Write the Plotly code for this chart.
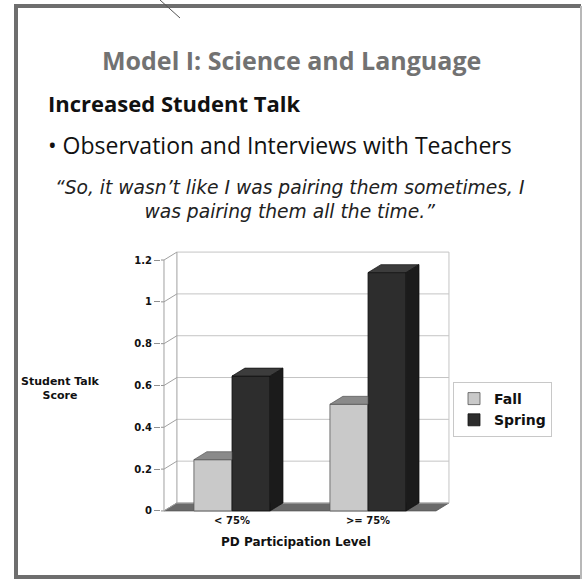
import plotly.graph_objects as go

# ---- data ----
categories = ["< 75%", ">= 75%"]
fall_values = [0.245, 0.51]
spring_values = [0.645, 1.14]
y_tick_values = [0, 0.2, 0.4, 0.6, 0.8, 1.0, 1.2]
y_tick_labels = ["0", "0.2", "0.4", "0.6", "0.8", "1", "1.2"]

# ---- styling / geometry constants ----
W, H = 583, 580
L, R, T, B = 161, 132, 250, 67
DX, DY = 0.095, 0.038          # 3-D depth in data units
EX, EY = 0.022, 0.01           # small padding so edge lines are not clipped
BARGAP = 0.44
BW = (1 - BARGAP) / 2
YMAX = 1.2
CH = "DejaVu Sans"
SF = "Open Sans"

FALL_FRONT, FALL_TOP = "#c9c9c9", "#8a8a8a"
SPR_FRONT, SPR_TOP, SPR_SIDE = "#2d2d2d", "#3c3c3c", "#1b1b1b"
GRID = "#c4c4c4"

xs = list(range(len(categories)))

fig = go.Figure()
fig.add_trace(go.Bar(x=xs, y=fall_values, name="Fall", marker=dict(color=FALL_FRONT, line=dict(color="#555", width=0.8))))
fig.add_trace(go.Bar(x=xs, y=spring_values, name="Spring", marker=dict(color=SPR_FRONT, line=dict(color="#111", width=0.8))))

def poly(px, py, color, line="#222"):
    fig.add_trace(go.Scatter(x=px + [px[0]], y=py + [py[0]], mode="lines", fill="toself",
                             fillcolor=color, line=dict(color=line, width=0.7),
                             showlegend=False, hoverinfo="skip"))

for i, (f, s) in enumerate(zip(fall_values, spring_values)):
    l0, r0 = i - BW, i
    poly([l0, r0, r0, l0 + DX], [f, f, f + DY, f + DY], FALL_TOP, "#555")
    l1, r1 = i, i + BW
    poly([l1, r1, r1 + DX, l1 + DX], [s, s, s + DY, s + DY], SPR_TOP, "#111")
    poly([r1, r1 + DX, r1 + DX, r1], [0, DY, s + DY, s], SPR_SIDE, "#111")

shapes = []
x0f, x1f = -0.5, len(categories) - 0.5
shapes.append(dict(type="path", xref="x", yref="y", layer="below",
                   path=f"M{x0f},0 L{x1f},0 L{x1f+DX},{DY} L{x0f+DX},{DY} Z",
                   fillcolor="#6a6a6a", line=dict(color="#555", width=0.8)))
for v in y_tick_values:
    shapes.append(dict(type="line", xref="x", yref="y", layer="below",
                       x0=x0f + DX, x1=x1f + DX, y0=v + DY, y1=v + DY,
                       line=dict(color=GRID, width=1)))
    shapes.append(dict(type="line", xref="x", yref="y", layer="below",
                       x0=x0f, x1=x0f + DX, y0=v, y1=v + DY,
                       line=dict(color="#a0a0a0", width=1)))
    shapes.append(dict(type="line", xref="x", yref="y", layer="below",
                       x0=x0f - EX, x1=x0f, y0=v, y1=v,
                       line=dict(color="#909090", width=1)))
shapes.append(dict(type="line", xref="x", yref="y", layer="below", x0=x0f, x1=x0f, y0=0, y1=YMAX,
                   line=dict(color="#a0a0a0", width=1)))
shapes.append(dict(type="line", xref="x", yref="y", layer="below", x0=x0f + DX, x1=x0f + DX, y0=DY, y1=YMAX + DY,
                   line=dict(color="#a0a0a0", width=1)))
shapes.append(dict(type="line", xref="x", yref="y", layer="below", x0=x1f + DX, x1=x1f + DX, y0=DY, y1=YMAX + DY,
                   line=dict(color=GRID, width=1)))

PW, PH = W - L - R, H - T - B
def PX(x): return (x - L) / PW
def PY(y): return (H - B - y) / PH

frame = "#6e6e6e"
shapes += [
    dict(type="line", xref="paper", yref="paper", x0=PX(16), x1=PX(16), y0=PY(4), y1=PY(579), line=dict(color=frame, width=4)),
    dict(type="line", xref="paper", yref="paper", x0=PX(14), x1=PX(581), y0=PY(6), y1=PY(6), line=dict(color=frame, width=4)),
    dict(type="line", xref="paper", yref="paper", x0=PX(14), x1=PX(581), y0=PY(577), y1=PY(577), line=dict(color=frame, width=4)),
    dict(type="line", xref="paper", yref="paper", x0=PX(581), x1=PX(581), y0=PY(6), y1=PY(579), line=dict(color="#b8b8b8", width=2)),
    dict(type="line", xref="paper", yref="paper", x0=PX(160), x1=PX(180), y0=PY(0), y1=PY(18), line=dict(color="#555", width=1)),
]

annotations = [
    dict(text="<b>Model I: Science and Language</b>", x=PX(291), y=PY(60), font=dict(family=SF, size=25, color="#727272")),
    dict(text="<b>Increased Student Talk</b>", x=PX(46), y=PY(103), xanchor="left", font=dict(family=SF, size=22, color="#111")),
    dict(text="• Observation and Interviews with Teachers", x=PX(46), y=PY(145), xanchor="left", font=dict(family=SF, size=23, color="#111")),
    dict(text="<i>“So, it wasn’t like I was pairing them sometimes, I<br>was pairing them all the time.”</i>",
         x=PX(290), y=PY(199), align="center", font=dict(family="DejaVu Sans", size=18.7, color="#222")),
    dict(text="<b>Student Talk<br>Score</b>", x=PX(60), y=PY(388), font=dict(family=CH, size=11, color="#111")),
    dict(text="<b>PD Participation Level</b>", x=PX(296), y=PY(542), font=dict(family=CH, size=12, color="#111")),
]
for a in annotations:
    a.update(xref="paper", yref="paper", showarrow=False)
    a.setdefault("xanchor", "center")
    a["yanchor"] = "middle"

fig.update_layout(
    width=W, height=H, margin=dict(l=L, r=R, t=T, b=B),
    paper_bgcolor="white", plot_bgcolor="white",
    barmode="group", bargap=BARGAP, bargroupgap=0,
    shapes=shapes, annotations=annotations,
    legend=dict(x=PX(453), y=PY(382), xanchor="left", yanchor="top",
                bordercolor="#c8c8c8", borderwidth=1, bgcolor="white",
                font=dict(family=CH, size=14, color="#111", weight="bold"),
                tracegroupgap=0, itemwidth=30),
    xaxis=dict(range=[x0f - EX, x1f + DX + 0.015], tickvals=xs, ticktext=categories,
               showgrid=False, zeroline=False, showline=False, ticks="",
               tickfont=dict(family=CH, size=10, color="#111", weight="bold")),
    yaxis=dict(range=[-EY, YMAX + DY + EY], tickvals=y_tick_values, ticktext=y_tick_labels,
               showgrid=False, zeroline=False, showline=False, ticks="outside", ticklen=6,
               tickcolor="#909090", tickfont=dict(family=CH, size=10, color="#111", weight="bold")),
    showlegend=True,
)
fig.write_html("out.html", config={"displayModeBar": False},
               post_script="document.body.style.margin='0';document.body.style.overflow='hidden';")
